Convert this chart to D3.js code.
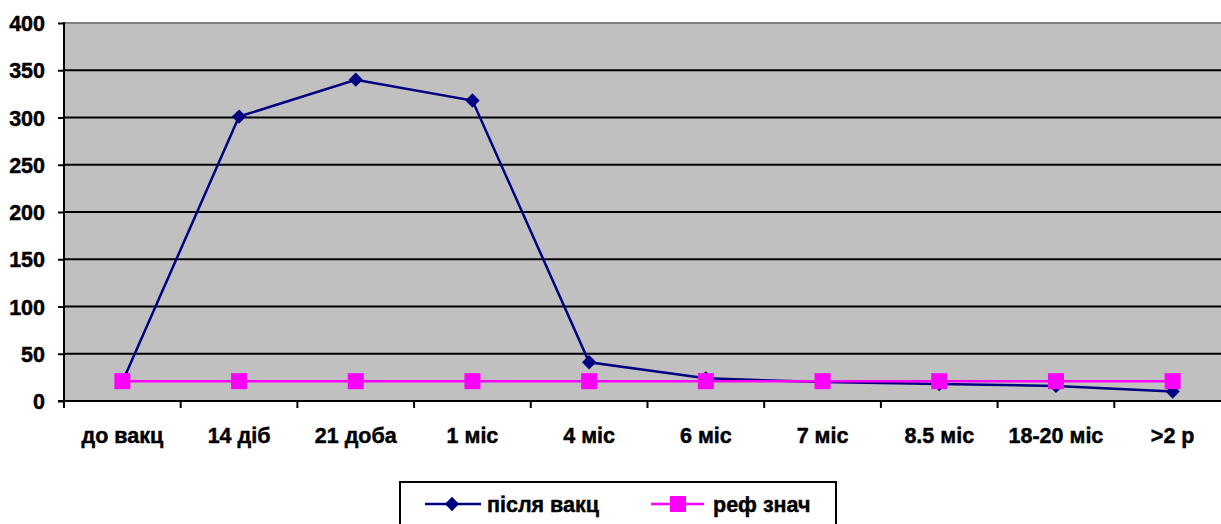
<!DOCTYPE html>
<html><head><meta charset="utf-8">
<script src="https://cdn.jsdelivr.net/npm/d3@7"></script>
<style>body{margin:0;background:#fff}svg{display:block}</style>
</head><body>
<script>
const categories = ["до вакц","14 діб","21 доба","1 міс","4 міс","6 міс","7 міс","8.5 міс","18-20 міс",">2 р"];
const afterVacc = [20,301,340,318,41,24,20,18,16,10];
const refValue = [21,21,21,21,21,21,21,21,21,21];
const yTicks = [0,50,100,150,200,250,300,350,400];
const seriesNames = ["після вакц","реф знач"];

const FONT='Arial, "Liberation Sans", sans-serif';
const W=1221,H=524;
const svg=d3.select("body").append("svg").attr("width",W).attr("height",H)
  .style("font-family",FONT).style("font-weight","700");
const L=64,T=23,B=401,R=1231;
const x=d3.scaleBand().domain(categories).range([L,R]);
const y=d3.scaleLinear().domain([0,400]).range([B,T]);
const styleText=s=>s.style("font-family",FONT).style("font-weight","700").style("font-size","21.5px")
  .attr("fill","#000").attr("stroke","#000").attr("stroke-width",0.45);

svg.append("rect").attr("x",L).attr("y",T).attr("width",R-L).attr("height",B-T).attr("fill","#C0C0C0");
svg.append("g").selectAll("line").data(yTicks.filter(d=>d>0&&d<400)).join("line")
 .attr("x1",L).attr("x2",R).attr("y1",d=>y(d)).attr("y2",d=>y(d)).attr("stroke","#000").attr("stroke-width",2);
svg.append("line").attr("x1",L).attr("x2",R).attr("y1",y(400)).attr("y2",y(400)).attr("stroke","#808080").attr("stroke-width",2);

const ya=svg.append("g").attr("transform",`translate(${L},0)`).call(d3.axisLeft(y).tickValues(yTicks).tickSize(6).tickPadding(13));
ya.select(".domain").remove();
ya.append("line").attr("x1",0).attr("x2",0).attr("y1",T-1).attr("y2",B+1).attr("stroke","#000").attr("stroke-width",2);
ya.selectAll(".tick line").attr("stroke","#000").attr("stroke-width",2);
ya.selectAll(".tick text").call(styleText).attr("dy","0.35em");

const xa=svg.append("g").attr("transform",`translate(0,${B})`);
xa.append("line").attr("x1",L-6).attr("x2",R).attr("y1",0).attr("y2",0).attr("stroke","#000").attr("stroke-width",2);
xa.selectAll("line.tk").data(categories).join("line").attr("class","tk")
 .attr("x1",d=>x(d)).attr("x2",d=>x(d)).attr("y1",0).attr("y2",7).attr("stroke","#000").attr("stroke-width",2);
xa.selectAll("text").data(categories).join("text")
 .attr("x",d=>x(d)+x.bandwidth()/2).attr("y",42).attr("text-anchor","middle").call(styleText).text(d=>d);

const cx=d=>x(d)+x.bandwidth()/2;
const line=d3.line().x((d,i)=>cx(categories[i])).y(d=>y(d));
svg.append("path").datum(afterVacc).attr("d",line).attr("fill","none").attr("stroke","#000080").attr("stroke-width",2.5);
svg.append("g").selectAll("path").data(afterVacc).join("path")
 .attr("transform",(d,i)=>`translate(${cx(categories[i])},${y(d)})`)
 .attr("d",d3.symbol(d3.symbolDiamond2,130)).attr("fill","#000080");
svg.append("path").datum(refValue).attr("d",line).attr("fill","none").attr("stroke","#FF00FF").attr("stroke-width",2.5);
svg.append("g").selectAll("rect").data(refValue).join("rect")
 .attr("x",(d,i)=>cx(categories[i])-8).attr("y",d=>y(d)-8).attr("width",16).attr("height",16).attr("fill","#FF00FF");

const lg=svg.append("g");
lg.append("rect").attr("x",400).attr("y",482).attr("width",436).attr("height",60).attr("fill","#fff").attr("stroke","#000").attr("stroke-width",2);
lg.append("line").attr("x1",425).attr("x2",481).attr("y1",504).attr("y2",504).attr("stroke","#000080").attr("stroke-width",2.5);
lg.append("path").attr("transform","translate(452,504)").attr("d",d3.symbol(d3.symbolDiamond2,130)).attr("fill","#000080");
lg.append("text").attr("x",487).attr("y",512).call(styleText).text(seriesNames[0]);
lg.append("line").attr("x1",651).attr("x2",704).attr("y1",504).attr("y2",504).attr("stroke","#FF00FF").attr("stroke-width",2.5);
lg.append("rect").attr("x",670).attr("y",496).attr("width",16).attr("height",16).attr("fill","#FF00FF");
lg.append("text").attr("x",713).attr("y",512).call(styleText).text(seriesNames[1]);
</script>
</body></html>
